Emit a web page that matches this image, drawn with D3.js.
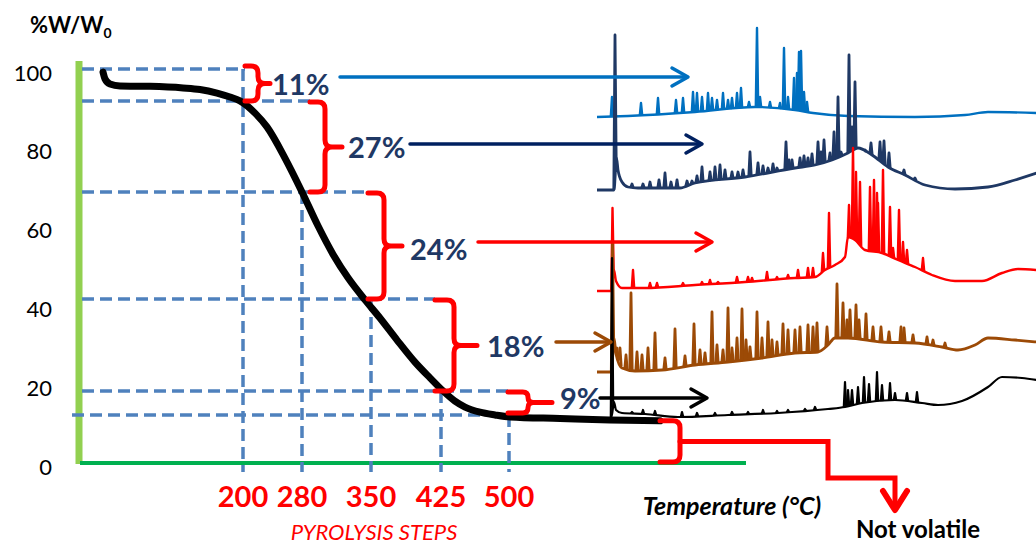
<!DOCTYPE html>
<html><head><meta charset="utf-8">
<script src="https://cdn.jsdelivr.net/npm/d3@7"></script>
<style>body{margin:0;background:#fff}svg{display:block}text{font-family:Lato,"Open Sans",sans-serif}</style>
</head><body><svg id="c" width="1036" height="546"></svg>
<script>
// ---------- DATA ----------
const yTicks = [0, 20, 40, 60, 80, 100];
const stepTemps = [200, 280, 350, 425, 500];
const topWeight = 100;
const stepWeights = [91.9, 68.8, 41.6, 18.3, 12.2];
const lossLabels = ["11%", "27%", "24%", "18%", "9%"];
const tgaTemp = [28.7, 31.1, 37.2, 49.5, 86.2, 126.6, 147.4, 168.2, 184.1, 196.3, 216.3, 232.5, 256.9, 280, 296.2, 311.4, 326.7, 343.9, 359.6, 377.9, 397.1, 413.2, 427.2, 440.4, 451.5, 468, 484.6, 501, 550.7, 600.3, 650];
const tgaWeight = [99.2, 97.5, 96.2, 95.7, 95.6, 95.2, 94.8, 93.9, 92.9, 91.9, 88.8, 85.3, 77.4, 68.8, 60.2, 53.0, 47.0, 41.4, 36.8, 31.2, 25.6, 21.6, 18.3, 15.7, 14.2, 12.9, 12.2, 11.7, 11.3, 10.9, 10.7];

// pyrograms: [retention time (min), signal (a.u., stacked offset)]
const lightBlueBaseline = [[0,176.5],[3.1,177],[9.8,179],[15.8,181.5],[19.8,180],[21.6,178.5],[25.1,177],[31.8,176.5],[36.8,177.5],[39.1,179],[44,178.5]];
const lightBluePeaks = [[1.5,186.5],[4.4,183.5],[6.1,186],[7.9,185],[8.6,186],[9.6,189],[10.0,188.5],[10.5,186.5],[11.1,188.5],[11.5,186],[12.0,185],[12.6,188.5],[13.1,185],[13.5,186],[14.0,188.5],[14.4,191],[15.2,184],[16.0,221],[16.3,186.5],[17.3,184],[18.3,183.5],[18.7,211],[19.1,186.5],[19.7,196],[20.0,198.5],[20.2,209],[20.4,209.5],[20.7,189],[21.0,184]];

const navyBaseline = [[0,140],[1.7,140],[1.95,156],[2.1,150],[2.5,144],[3.1,141.5],[4.1,141],[8.3,141],[9.8,143.5],[14.8,146.5],[19.8,151],[21.8,152.5],[23.5,155],[25.1,158.5],[26.1,161],[27.5,157.5],[29.1,151.5],[30.8,147.5],[32.8,142.5],[35.8,140.5],[39.1,141.5],[41.8,145],[44,148.5]];
const navyPeaks = [[1.8,217.5],[3.5,143],[4.6,143],[5.3,144],[6.2,145],[6.8,148.5],[7.4,144],[8.0,145],[9.0,144.5],[9.5,144.5],[10.0,147],[10.5,151.5],[11.3,149],[11.8,151.5],[12.3,152.5],[12.8,150],[13.5,149],[14.1,149],[14.6,150],[15.3,159],[16.1,153.5],[16.6,152],[17.1,151],[17.6,153],[18.0,151],[18.9,164],[19.2,155],[19.5,155],[20.3,156],[20.7,157],[21.1,156],[21.5,158],[22.1,164],[22.4,159],[22.7,165],[23.3,158.5],[23.7,169],[24.1,186.5],[24.4,159],[25.2,207.5],[25.5,171.5],[25.8,194],[26.8,160],[27.4,163.5],[28.3,164],[28.7,164.5],[29.2,158.5],[30.7,150],[31.8,146]];

const redBaseline = [[0,89.5],[1.45,89.5],[1.7,100],[1.9,94.5],[2.5,91],[4.8,91],[9.8,92.5],[14.8,94],[19.8,96],[21.8,96.5],[22.8,100],[23.8,102.5],[24.8,106.5],[25.1,116.5],[25.8,115],[26.8,110],[28.5,108.5],[30.1,105],[31.8,101.5],[33.5,97.5],[35.8,94.5],[38.5,94.5],[40.5,98.5],[42.1,100.5],[44,100]];
const redPeaks = [[1.55,131],[3.6,100],[5.3,93.5],[6.0,93.5],[8.6,93.5],[10.5,94],[11.3,95],[12.1,94],[14.0,96.5],[15.1,96.5],[15.5,96],[17.0,99],[18.0,96.5],[19.1,97.5],[20.1,100],[21.1,101],[21.6,101],[22.6,108.5],[23.2,128.5],[25.2,132.5],[25.6,161],[25.9,149],[26.3,144],[27.3,141.5],[27.7,145],[28.0,138.5],[28.1,133.5],[28.6,150],[29.3,131.5],[29.6,111],[30.2,130],[30.6,114],[31.0,110],[32.6,106]];

const brownBaseline = [[0,49],[1.45,49],[1.7,66],[1.9,58],[2.5,51],[3.8,49.5],[6.5,50],[9.8,52.5],[13.1,54],[16.5,56],[19.8,58.5],[22.1,59],[23.1,62.5],[23.8,66],[25.1,66],[28.5,64],[31.8,63.5],[34.5,61.5],[36.1,60],[37.8,62.5],[39.1,66],[41.8,65],[44,64]];
const brownPeaks = [[1.55,113.5],[2.0,61],[2.3,61],[2.9,57.5],[3.4,88.5],[4.0,59],[4.5,57.5],[5.1,61],[5.8,68.5],[6.8,56],[7.8,70.5],[8.8,57],[9.7,73],[10.3,60],[10.8,58.5],[11.5,79],[12.0,62.5],[12.6,60],[13.1,81],[13.5,61],[14.0,66],[14.5,80.5],[14.9,65],[15.3,61.5],[16.0,79],[16.5,66],[17.1,74],[17.5,65],[18.0,64],[18.6,73],[19.1,70],[19.8,70],[20.3,71.5],[21.1,72.5],[21.6,71.5],[22.0,73.5],[23.0,71.5],[24.0,93],[24.6,83.5],[25.0,75],[25.3,80],[25.9,82.5],[26.2,75],[26.9,78],[27.6,71.5],[28.4,71.5],[29.2,69],[30.4,71.5],[30.7,71],[31.6,67.5],[33.0,66.5],[33.6,65],[34.8,63.5]];

const blackBaseline = [[1.3,26.5],[1.45,26.5],[1.7,34],[1.9,30],[2.5,28.5],[4.8,28],[8.1,26.5],[13.1,27.5],[18.1,28.5],[23.1,30.5],[24.8,31.5],[26.5,33.5],[29.8,35],[32.5,33.5],[34.1,32.5],[36.5,34.5],[39.1,41.5],[40.5,46.5],[42.5,46],[44,45]];
const blackPeaks = [[1.5,106],[3.5,29],[4.6,30],[5.8,29.5],[8.5,29],[10.0,28.5],[11.8,28.5],[13.5,29],[15.1,29],[16.6,30],[18.0,29.5],[19.1,30],[20.8,30.5],[21.8,31.5],[24.8,44],[25.1,40],[25.5,40],[26.1,41.5],[26.7,46.5],[27.2,43],[28.0,49],[28.5,42.5],[29.3,43.5],[29.8,38.5],[31.0,38.5],[32.0,39]];

// ---------- SCALES ----------
const svg = d3.select("#c");
const y = d3.scaleLinear().domain([0, 100]).range([463, 69]);
const x = d3.scaleLinear().domain([25, 200, 280, 350, 425, 500, 650]).range([100, 243, 302, 371, 441, 509, 660]);
const xc = d3.scaleLinear().domain([0, 44]).range([597, 1037]);
const yc = d3.scaleLinear().domain([0, 225]).range([470, 20]);

// ---------- AXES ----------
svg.append("line").attr("x1", 79).attr("x2", 79).attr("y1", 61).attr("y2", y(0) + 1)
  .attr("stroke", "#92D050").attr("stroke-width", 7);
svg.append("line").attr("x1", 80).attr("x2", 746).attr("y1", y(0)).attr("y2", y(0))
  .attr("stroke", "#00B050").attr("stroke-width", 4);

const yAxis = svg.append("g").attr("transform", "translate(52,4)")
  .call(d3.axisLeft(y).tickValues(yTicks).tickSize(0).tickPadding(0).tickFormat(d3.format("d")));
yAxis.select(".domain").remove();
yAxis.selectAll("text").attr("font-family", "Lato, sans-serif").attr("font-size", 22).attr("fill", "#000");

// ---------- DASHED GUIDES ----------
const dash = svg.append("g").attr("stroke", "#4F81BD").attr("stroke-width", 3.5)
  .attr("stroke-dasharray", "12,6").attr("fill", "none");
const levels = [topWeight, ...stepWeights];
const hStart = [82, 82, 82, 82, 82, 72];
const hEnd = [245, 310, 368, 435, 508, 505];
levels.forEach((w, i) => dash.append("line").attr("x1", hStart[i]).attr("x2", hEnd[i]).attr("y1", y(w)).attr("y2", y(w)));
stepTemps.forEach((t, i) => dash.append("line").attr("x1", x(t)).attr("x2", x(t))
  .attr("y1", y(i === 0 ? topWeight : stepWeights[i])).attr("y2", 472));

// ---------- TGA CURVE ----------
svg.append("path").datum(d3.zip(tgaTemp, tgaWeight))
  .attr("d", d3.line().x(d => x(d[0])).y(d => y(d[1])).curve(d3.curveMonotoneX))
  .attr("fill", "none").attr("stroke", "#000").attr("stroke-width", 7).attr("stroke-linecap", "round");

// ---------- PYROGRAMS ----------
function trace(base, peaks, color, sw) {
  const g = svg.append("g").attr("fill", "none").attr("stroke", color).attr("stroke-width", sw)
    .attr("stroke-linejoin", "round");
  const bl = d3.scaleLinear().domain(base.map(d => d[0])).range(base.map(d => d[1])).clamp(true);
  g.append("path").datum(base)
    .attr("d", d3.line().x(d => xc(d[0])).y(d => yc(d[1])).curve(d3.curveMonotoneX));
  const w = 0.12;
  g.selectAll(".pk").data(peaks).join("path")
    .attr("d", d => d3.line()([[xc(d[0] - w), yc(bl(d[0] - w))], [xc(d[0]), yc(d[1])], [xc(d[0] + w), yc(bl(d[0] + w))]]));
}
trace(lightBlueBaseline, lightBluePeaks, "#0070C0", 2.4);
trace(navyBaseline, navyPeaks, "#1F3864", 2.8);
trace(redBaseline, redPeaks, "#FF0000", 2.4);
trace(brownBaseline, brownPeaks, "#9C4A06", 2.8);
trace(blackBaseline, blackPeaks, "#000000", 2.2);

// ---------- BRACES, LABELS, ARROWS ----------
const braceX0 = [245, 310, 368, 435, 508];
const braceXV = [258, 325, 384, 454, 528];
const braceTip = [270, 342, 402, 477, 552];
const braceTop = [y(topWeight) - 3, ...stepWeights.slice(0, 4).map(w => y(w) + 1)];
const braceBot = stepWeights.map((w, i) => y(w) - (i === 4 ? 2 : 0));
function brace(x0, xv, tip, yt, yb) {
  const ym = (yt + yb) / 2, r = Math.min(7, (yb - yt) / 4);
  return `M${x0},${yt} L${xv - r},${yt} Q${xv},${yt} ${xv},${yt + r} L${xv},${ym - r} Q${xv},${ym} ${xv + r},${ym} L${tip},${ym} M${xv + r},${ym} Q${xv},${ym} ${xv},${ym + r} L${xv},${yb - r} Q${xv},${yb} ${xv - r},${yb} L${x0},${yb}`;
}
const br = svg.append("g").attr("fill", "none").attr("stroke", "#FF0000").attr("stroke-width", 5)
  .attr("stroke-linejoin", "round").attr("stroke-linecap", "round");
lossLabels.forEach((l, i) => br.append("path").attr("d", brace(braceX0[i], braceXV[i], braceTip[i], braceTop[i], braceBot[i])));

const labelX = [272, 348, 410, 487, 560];
const labelDy = [0, 0, 2, 0, -5];
svg.append("g").selectAll("text").data(lossLabels).join("text")
  .attr("x", (d, i) => labelX[i]).attr("y", (d, i) => (braceTop[i] + braceBot[i]) / 2 + labelDy[i])
  .attr("dominant-baseline", "central").attr("font-size", 29).attr("font-weight", "bold")
  .attr("fill", "#1F3864").text(d => d);

const arrowX1 = [340, 410, 478, 556, 600];
const arrowX2 = [688, 702, 712, 611, 707];
const arrowY = [77, 144, 242, 342, 398];
const arrowCol = ["#0070C0", "#002060", "#FF0000", "#9C4A06", "#000000"];
lossLabels.forEach((l, i) => {
  const g = svg.append("g").attr("fill", "none").attr("stroke", arrowCol[i]).attr("stroke-width", 3.5)
    .attr("stroke-linecap", "round").attr("stroke-linejoin", "round");
  g.append("line").attr("x1", arrowX1[i]).attr("x2", arrowX2[i] - 2).attr("y1", arrowY[i]).attr("y2", arrowY[i]);
  g.append("path").attr("d", `M${arrowX2[i] - 16},${arrowY[i] - 9} L${arrowX2[i]},${arrowY[i]} L${arrowX2[i] - 16},${arrowY[i] + 9}`);
});

// not volatile brace + arrow
const residue = tgaWeight[tgaWeight.length - 1];
const nvTop = y(residue), nvBot = y(0) - 1, nvMid = (nvTop + nvBot) / 2;
br.append("path").attr("d", `M660,${nvTop} L673,${nvTop} Q680,${nvTop} 680,${nvTop + 7} L680,${nvBot - 7} Q680,${nvBot} 673,${nvBot} L660,${nvBot}`);
br.append("path").attr("d", `M680,${nvMid} L828,${nvMid} L828,478 L895,478 L895,508`).attr("stroke-linejoin", "miter");
br.append("path").attr("d", "M883,491 L895,510 L907,491").attr("stroke-width", 6);

// ---------- TEXT ----------
const t0 = svg.append("text").attr("x", 30).attr("y", 33).attr("font-size", 22).attr("font-weight", "bold").attr("fill", "#000");
t0.append("tspan").text("%W/W");
t0.append("tspan").attr("font-size", 14).attr("dy", 5).text("0");

svg.append("g").selectAll("text").data(stepTemps).join("text")
  .attr("x", d => x(d)).attr("y", 495).attr("text-anchor", "middle").attr("dominant-baseline", "central")
  .attr("font-size", 29).attr("font-weight", "bold").attr("fill", "#FF0000").text(d => d);

svg.append("text").attr("x", 374).attr("y", 540).attr("text-anchor", "middle")
  .attr("font-size", 22).attr("font-style", "italic").attr("fill", "#FF0000").text("PYROLYSIS STEPS");
svg.append("text").attr("x", 732).attr("y", 505).attr("text-anchor", "middle").attr("dominant-baseline", "central")
  .attr("font-size", 25).attr("font-style", "italic").attr("font-weight", "bold").attr("fill", "#000").text("Temperature (°C)");
svg.append("text").attr("x", 918).attr("y", 528).attr("text-anchor", "middle").attr("dominant-baseline", "central")
  .attr("font-size", 24).attr("font-weight", "bold").attr("fill", "#000").text("Not volatile");
</script></body></html>
